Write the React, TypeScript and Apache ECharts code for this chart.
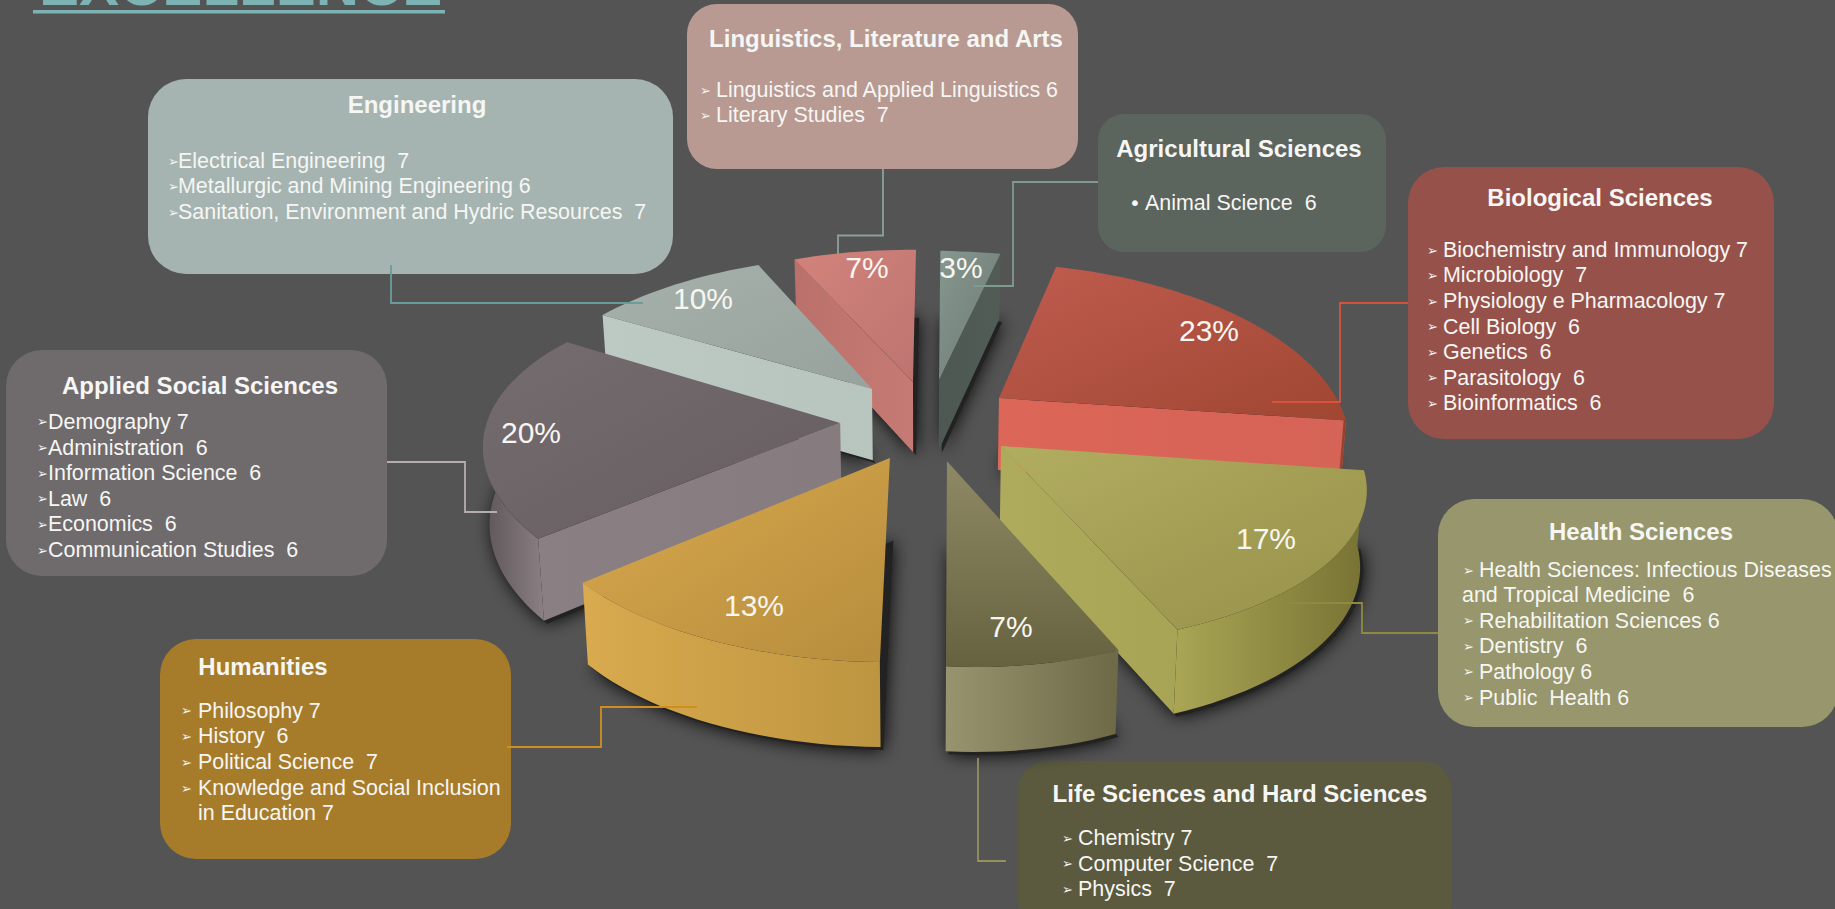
import React, { useEffect, useRef } from "react";
import * as echarts from "echarts";

// ---------- data ----------
const areas = [
  "Agricultural Sciences", "Biological Sciences", "Health Sciences", "Life Sciences and Hard Sciences",
  "Humanities", "Applied Social Sciences", "Engineering", "Linguistics, Literature and Arts",
];
const shares = [3, 23, 17, 7, 13, 20, 10, 7];

const agricultural = ["Animal Science  6"];
const biological = ["Biochemistry and Immunology 7", "Microbiology  7", "Physiology e Pharmacology 7", "Cell Biology  6", "Genetics  6", "Parasitology  6", "Bioinformatics  6"];
const health = ["Health Sciences: Infectious Diseases", "and Tropical Medicine  6", "Rehabilitation Sciences 6", "Dentistry  6", "Pathology 6", "Public  Health 6"];
const life = ["Chemistry 7", "Computer Science  7", "Physics  7"];
const humanities = ["Philosophy 7", "History  6", "Political Science  7", "Knowledge and Social Inclusion", "in Education 7"];
const applied = ["Demography 7", "Administration  6", "Information Science  6", "Law  6", "Economics  6", "Communication Studies  6"];
const engineering = ["Electrical Engineering  7", "Metallurgic and Mining Engineering 6", "Sanitation, Environment and Hydric Resources  7"];
const linguistics = ["Linguistics and Applied Linguistics 6", "Literary Studies  7"];

// ---------- pie projection (screen layout, not data) ----------
const CX = 925, CY = 421, RX = 345, RY = 160, PERSP = 0.22;
const EX = 95, EY = 42;
const pullX = [1.57, 0.985, 0.967, 1.06, 0.93, 0.9, 0.815, 0.58];
const pullY = [0.98, 0.89, 1.06, 0.98, 0.96, 0.38, 1.05, 0.95];
// per-slice perspective skew of the rim: [a, b, c, d]
const skew = [
  [1.13, -0.01, 0.02, 0.985],
  [0.995, -0.033, 0.034, 1.03],
  [1.042, -0.081, 0.041, 0.975],
  [0.94, -0.005, 0.044, 1],
  [1.016, -0.049, 0.012, 0.995],
  [1.007, -0.03, 0.042, 0.995],
  [1.006, -0.08, 0.012, 1.013],
  [0.99, -0.023, 0.008, 1.008],
];
const drawOrder = [0, 7, 1, 6, 5, 2, 3, 4];
const labelPos = [[961, 267], [1209, 330], [1266, 538], [1011, 626], [754, 605], [531, 432], [703, 298], [867, 267]];

const sliceStyle = [
  { top: ["#86988f", "#6c7872", 1, 1], cut: ["#4d5853", "#515c57"], wall: ["#4d5853", "#515c57"] },
  { top: ["#bf5c4f", "#a04632", 1, 1], cut: ["#dc6658", "#d56356"], wall: ["#a04632", "#8f3f2e"] },
  { top: ["#b1ad60", "#97904a", 1, 1], cut: ["#aeab5c", "#a8a455"], wall: ["#aaa655", "#777233"] },
  { top: ["#8f8965", "#66623f", 0, 1], cut: ["#8f8965", "#8f8965"], wall: ["#989470", "#6d6845"] },
  { top: ["#d9a84d", "#b68d3d", 1, 1], cut: ["#d9a84d", "#d9a84d"], wall: ["#d9aa4e", "#bd9540"] },
  { top: ["#756c70", "#665d61", 1, 1], cut: ["#8a8084", "#867c80"], wall: ["#5d5558", "#8a8084"] },
  { top: ["#a6b1ab", "#96a29b", 1, 1], cut: ["#bdc9c3", "#b8c4be"], wall: ["#bdc9c3", "#b8c4be"] },
  { top: ["#d2837b", "#bd7470", 1, 1], cut: ["#bb716b", "#c67a74"], wall: ["#bb716b", "#c67a74"] },
];

// ---------- cards (layout) ----------
type Card = {
  x: number; y: number; w: number; h: number; r: number; fill: string;
  title: string; tx: number; ty: number; bx: number; lx: number; ly: number[]; lines: string[];
  bullet?: string; noBullet?: number[]; lineX?: Record<number, number>;
};
const cards: Card[] = [
  { x: 148, y: 79, w: 525, h: 195, r: 38, fill: "#a5b4b0", title: areas[6], tx: 417, ty: 104, bx: 168, lx: 178, ly: [161, 186, 212], lines: engineering },
  { x: 687, y: 4, w: 391, h: 165, r: 30, fill: "#b89a92", title: areas[7], tx: 886, ty: 38, bx: 700, lx: 716, ly: [90, 115], lines: linguistics },
  { x: 1098, y: 114, w: 288, h: 138, r: 26, fill: "#5c645e", title: areas[0], tx: 1239, ty: 148, bx: 1129, lx: 1145, ly: [203], lines: agricultural, bullet: "•" },
  { x: 1408, y: 167, w: 366, h: 272, r: 36, fill: "#96524a", title: areas[1], tx: 1600, ty: 197, bx: 1427, lx: 1443, ly: [250, 275, 301, 326.5, 352, 377.5, 403], lines: biological },
  { x: 1438, y: 499, w: 400, h: 228, r: 36, fill: "#97966c", title: areas[2], tx: 1641, ty: 531, bx: 1463, lx: 1479, ly: [570, 595, 620.5, 646, 671.5, 697.5], lines: health, noBullet: [1], lineX: { 1: 1462 } },
  { x: 1018, y: 761, w: 434, h: 170, r: 30, fill: "#5b5a3e", title: areas[3], tx: 1240, ty: 793, bx: 1062, lx: 1078, ly: [838, 863.7, 889], lines: life },
  { x: 160, y: 639, w: 351, h: 220, r: 36, fill: "#a67c2b", title: areas[4], tx: 263, ty: 666, bx: 181, lx: 198, ly: [710.5, 736, 762, 788, 813], lines: humanities, noBullet: [4] },
  { x: 6, y: 350, w: 381, h: 226, r: 36, fill: "#6f6b6c", title: areas[5], tx: 200, ty: 385.5, bx: 37, lx: 48, ly: [421.5, 447.5, 473, 498.5, 524, 550], lines: applied },
];

const leaders: { pts: number[][]; color: string }[] = [
  { pts: [[391, 265], [391, 303], [643, 303]], color: "#6a9c9c" },
  { pts: [[838, 254], [838, 235.5], [883, 235.5], [883, 169]], color: "#8aa09c" },
  { pts: [[973, 286], [1013, 286], [1013, 182], [1098, 182]], color: "#7f9a90" },
  { pts: [[1272, 402], [1340, 402], [1340, 303], [1408, 303]], color: "#d8533d" },
  { pts: [[1287, 603], [1362, 603], [1362, 633], [1438, 633]], color: "#8f8a3f" },
  { pts: [[978, 758], [978, 861], [1006, 861]], color: "#94905f" },
  { pts: [[507, 747], [601, 747], [601, 707], [697, 707]], color: "#cf8f1f" },
  { pts: [[387, 462], [465, 462], [465, 512], [497, 512]], color: "#b5adb0" },
];

const FONT = '"Liberation Sans", Arial, sans-serif';

// ---------- geometry driven by the shares ----------
const total = shares.reduce((a, b) => a + b, 0);
const slices = (() => {
  let acc = 0;
  return shares.map((v, i) => {
    const a0 = (acc / total) * 360;
    acc += v;
    const a1 = (acc / total) * 360;
    const mid = ((a0 + a1) / 2) * Math.PI / 180;
    return {
      i, a0, a1,
      ax: CX + EX * pullX[i] * Math.sin(mid),
      ay: CY - EY * pullY[i] * Math.cos(mid),
      mv: -Math.cos(mid),
    };
  });
})();
const rimPoint = (s: any, deg: number) => {
  const t = deg * Math.PI / 180;
  const u = Math.sin(t), v = -Math.cos(t), w = 1 - PERSP * v;
  const mx = RX * u / w, my = RY * v / w;
  const [a, b, c, d] = skew[s.i];
  return { x: s.ax + a * mx + b * my, y: s.ay + c * mx + d * my, v };
};
const drop = (x: number, y: number, v: number) => [CX + (x - CX) * 0.985, y + 75 + 10 * v];
const rim = (s: any) => {
  const out: any[] = [];
  const n = Math.max(2, Math.ceil((s.a1 - s.a0) / 2));
  for (let k = 0; k <= n; k++) out.push(rimPoint(s, s.a0 + (s.a1 - s.a0) * k / n));
  return out;
};
const grad = (a: string, b: string, x2 = 1, y2 = 0) =>
  new echarts.graphic.LinearGradient(0, 0, x2, y2, [{ offset: 0, color: a }, { offset: 1, color: b }]);

function sliceFaces(s: any) {
  const st = sliceStyle[s.i];
  const pts = rim(s);
  const aLow = drop(s.ax, s.ay, s.mv * 0.5);
  const kids: any[] = [];
  const first = pts[0], last = pts[pts.length - 1];
  if (first.x < s.ax - 15) {
    kids.push({ type: "polygon", shape: { points: [[s.ax, s.ay], [first.x, first.y], drop(first.x, first.y, first.v), aLow] }, style: { fill: grad(st.cut[0], st.cut[1]) } });
  }
  if (s.ax < last.x - 15) {
    kids.push({ type: "polygon", shape: { points: [[s.ax, s.ay], [last.x, last.y], drop(last.x, last.y, last.v), aLow] }, style: { fill: grad(st.cut[0], st.cut[1]) } });
  }
  const wallIdx = pts.map((_, k) => k).filter((k) => {
    const d = s.a0 + (s.a1 - s.a0) * k / (pts.length - 1);
    return d >= 90 && d <= 272;
  });
  if (wallIdx.length > 1) {
    const upper = wallIdx.map((k) => [pts[k].x, pts[k].y]);
    const lower = wallIdx.map((k) => drop(pts[k].x, pts[k].y, pts[k].v)).reverse();
    kids.push({ type: "polygon", shape: { points: upper.concat(lower) }, style: { fill: grad(st.wall[0], st.wall[1]) } });
  }
  kids.push({
    type: "polygon",
    shape: { points: [[s.ax, s.ay]].concat(pts.map((p) => [p.x, p.y])) },
    style: { fill: grad(st.top[0] as string, st.top[1] as string, st.top[2] as number, st.top[3] as number) },
  });
  return { type: "group", children: kids };
}

function sliceShadow(s: any) {
  const pts = rim(s);
  const aLow = drop(s.ax, s.ay, s.mv * 0.5);
  const low = [aLow].concat(pts.map((p) => drop(p.x, p.y, p.v)));
  return {
    type: "polygon",
    x: 3,
    y: 3,
    shape: { points: low },
    style: { fill: "#222222", shadowBlur: 18, shadowColor: "rgba(0,0,0,0.95)" },
  };
}

const text = (t: string, x: number, y: number, size: number, extra: any = {}) => ({
  type: "text", x, y, z: 12, silent: true,
  style: { text: t, fill: "#f6f6f4", fontSize: size, fontFamily: FONT, textAlign: "left", textVerticalAlign: "middle", ...extra },
});

function buildGraphic() {
  const els: any[] = [];
  els.push({ type: "text", x: 39, y: -16, z: 1, style: { text: "EXCELLENCE", fill: "#7db3b3", fontSize: 60, fontWeight: "bold", fontFamily: FONT, textAlign: "left", textVerticalAlign: "middle" } });
  els.push({ type: "rect", z: 1, shape: { x: 33, y: 10, width: 412, height: 3.5 }, style: { fill: "#7db3b3" } });
  cards.forEach((c) => {
    els.push({ type: "rect", z: 1, shape: { x: c.x, y: c.y, width: c.w, height: c.h, r: c.r }, style: { fill: c.fill } });
    els.push(text(c.title, c.tx, c.ty, 24, { fontWeight: "bold", textAlign: "center" }));
    c.lines.forEach((l, i) => {
      if (!(c.noBullet || []).includes(i)) {
        els.push(text(c.bullet || "➢", c.bx, c.ly[i], c.bullet ? 20 : 13, { fontFamily: '"DejaVu Sans"' }));
      }
      els.push(text(l, (c.lineX && c.lineX[i]) || c.lx, c.ly[i], 21.45));
    });
  });
  leaders.forEach((l) => {
    els.push({ type: "polyline", z: 10, silent: true, shape: { points: l.pts }, style: { stroke: l.color, lineWidth: 1.8, fill: "none" } });
  });
  shares.forEach((v, i) => {
    els.push(text(`${v}%`, labelPos[i][0], labelPos[i][1], 30, { textAlign: "center", fill: "#f8f6f0" }));
  });
  return els;
}

export default function App() {
  const ref = useRef<HTMLDivElement>(null);
  useEffect(() => {
    document.body.style.margin = "0";
    document.body.style.overflow = "hidden";
    const chart = echarts.init(ref.current!, undefined, { renderer: "svg" });
    const seriesData = drawOrder.map((i) => ({ name: areas[i], value: [i, shares[i]] }));
    chart.setOption({
      animation: false,
      backgroundColor: "#545454",
      tooltip: { show: false },
      series: [
        {
          type: "custom", coordinateSystem: "none", silent: true, z: 2,
          data: seriesData,
          renderItem: (_: any, api: any) => sliceShadow(slices[api.value(0)]),
        },
        {
          type: "custom", coordinateSystem: "none", silent: true, z: 3,
          data: seriesData,
          renderItem: (_: any, api: any) => sliceFaces(slices[api.value(0)]),
        },
      ],
      graphic: { elements: buildGraphic() },
    });
    return () => chart.dispose();
  }, []);
  return <div ref={ref} style={{ width: 1835, height: 909 }} />;
}
